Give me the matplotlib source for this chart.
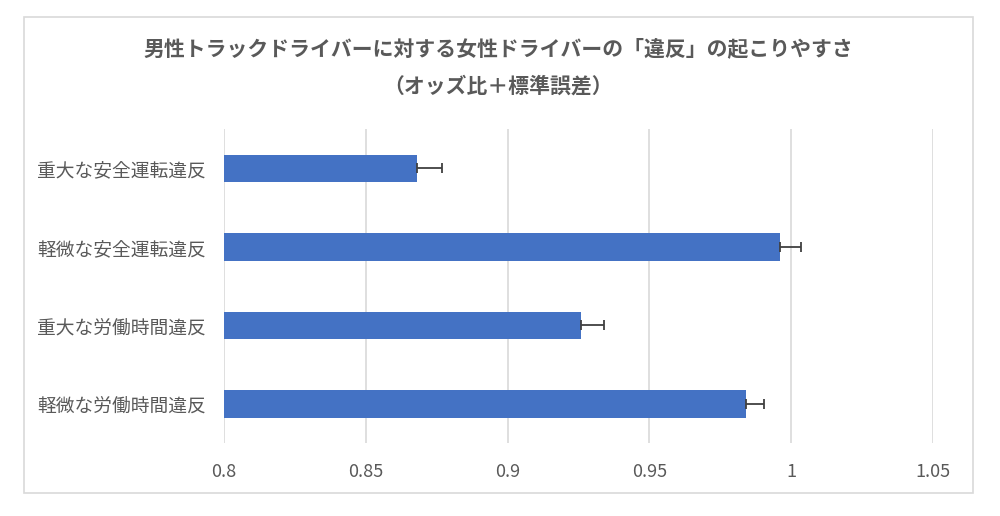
import matplotlib.pyplot as plt
from matplotlib.patches import Rectangle

plt.rcParams['font.family'] = ['Noto Sans CJK JP', 'DejaVu Sans']

# data (odds ratio and standard error)
categories = ['重大な安全運転違反', '軽微な安全運転違反', '重大な労働時間違反', '軽微な労働時間違反']
odds = [0.868, 0.996, 0.926, 0.984]
se = [0.009, 0.0073, 0.008, 0.0063]
xticks = [0.8, 0.85, 0.9, 0.95, 1.0, 1.05]
xticklabels = ['0.8', '0.85', '0.9', '0.95', '1', '1.05']

fig = plt.figure(figsize=(10, 5.16), dpi=100)
ax = fig.add_axes([0.224, 0.141, 0.709, 0.609])

y = list(range(len(categories)))
ax.barh(y, [v - 0.8 for v in odds], left=0.8, height=0.35, color='#4472C4',
        xerr=[[0] * len(se), se], error_kw=dict(ecolor='#404040', elinewidth=1.3, capsize=3.5, capthick=1.3),
        zorder=3)

ax.set_xlim(0.8, 1.05)
ax.set_ylim(len(categories) - 0.5, -0.5)
ax.set_xticks(xticks)
ax.set_xticklabels(xticklabels)
ax.set_yticks(y)
ax.set_yticklabels(categories)
ax.tick_params(axis='both', length=0, colors='#595959', labelsize=13)
ax.tick_params(axis='y', labelsize=13.5, pad=13)
ax.tick_params(axis='x', pad=14)
ax.grid(axis='x', color='#D9D9D9', linewidth=1.2, zorder=0)
for s in ax.spines.values():
    s.set_visible(False)

fig.text(0.498, 0.905, '男性トラックドライバーに対する女性ドライバーの「違反」の起こりやすさ',
         ha='center', va='center', fontsize=15, fontweight='bold', color='#595959')
fig.text(0.498, 0.834, '（オッズ比＋標準誤差）',
         ha='center', va='center', fontsize=15, fontweight='bold', color='#595959')

fig.patches.append(Rectangle((0.024, 0.045), 0.949, 0.922, transform=fig.transFigure,
                             fill=False, edgecolor='#D9D9D9', linewidth=1.2))

fig.savefig('out.png', dpi=100)
